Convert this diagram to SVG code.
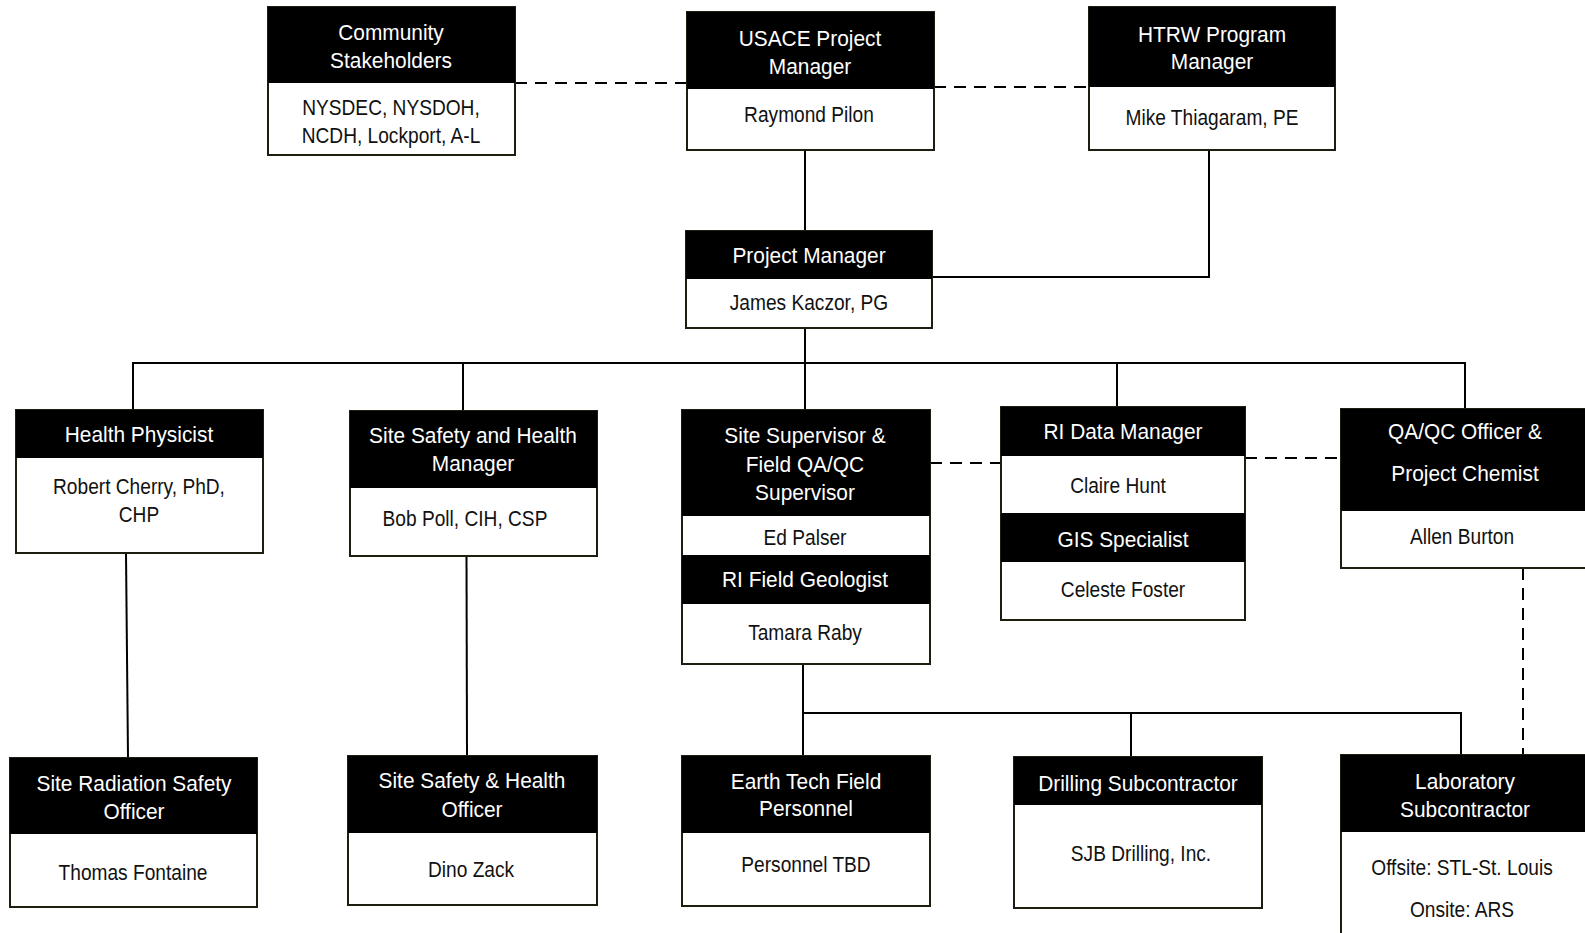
<svg xmlns="http://www.w3.org/2000/svg" width="1585" height="933" viewBox="0 0 1585 933">
<style>
.box{fill:#fff;stroke:#1c1f10;stroke-width:2}
.hd{fill:#000}
text{font-family:"Liberation Sans Narrow","Arial Narrow","Liberation Sans",Arial,sans-serif;font-size:22px;text-anchor:middle;transform-box:fill-box;transform-origin:center}
.w{fill:#fff;transform:scaleX(.95)}
.b{fill:#111;transform:scaleX(.87)}
.ln{fill:none;stroke:#000;stroke-width:2}
.ds{fill:none;stroke:#000;stroke-width:2;stroke-dasharray:12 8}
</style>
<rect width="1585" height="933" fill="#fff"/>
<g id="connectors">
<path class="ds" d="M515 83H687"/>
<path class="ds" d="M934 87H1089"/>
<path class="ln" d="M805 150V231"/>
<path class="ln" d="M1209 150V277H932"/>
<path class="ln" d="M805 328V363"/>
<path class="ln" d="M133 410V363H1465V409"/>
<path class="ln" d="M463 363V411"/>
<path class="ln" d="M805 363V410"/>
<path class="ln" d="M1117 363V407"/>
<path class="ds" d="M930 463H1001"/>
<path class="ds" d="M1245 458H1341"/>
<path class="ds" d="M1523 568V755"/>
<path class="ln" d="M126 553L128 758"/>
<path class="ln" d="M466.5 556L467 756"/>
<path class="ln" d="M803 664V756"/>
<path class="ln" d="M803 713H1461V755"/>
<path class="ln" d="M1131 713V757"/>
</g>
<g id="community">
<rect class="box" x="268" y="7" width="247" height="148"/>
<rect class="hd" x="268" y="7" width="247" height="76"/>
<text class="w" x="391" y="40">Community</text>
<text class="w" x="391" y="68">Stakeholders</text>
<text class="b" x="391" y="115">NYSDEC, NYSDOH,</text>
<text class="b" x="391" y="143">NCDH, Lockport, A-L</text>
</g>
<g id="usace">
<rect class="box" x="687" y="12" width="247" height="138"/>
<rect class="hd" x="687" y="12" width="247" height="77"/>
<text class="w" x="810" y="46">USACE Project</text>
<text class="w" x="810" y="74">Manager</text>
<text class="b" x="809" y="122">Raymond Pilon</text>
</g>
<g id="htrw">
<rect class="box" x="1089" y="7" width="246" height="143"/>
<rect class="hd" x="1089" y="7" width="246" height="80"/>
<text class="w" x="1212" y="42">HTRW Program</text>
<text class="w" x="1212" y="69">Manager</text>
<text class="b" x="1212" y="125">Mike Thiagaram, PE</text>
</g>
<g id="pm">
<rect class="box" x="686" y="231" width="246" height="97"/>
<rect class="hd" x="686" y="231" width="246" height="48"/>
<text class="w" x="809" y="263">Project Manager</text>
<text class="b" x="809" y="310">James Kaczor, PG</text>
</g>
<g id="health-physicist">
<rect class="box" x="16" y="410" width="247" height="143"/>
<rect class="hd" x="16" y="410" width="247" height="48"/>
<text class="w" x="139" y="442">Health Physicist</text>
<text class="b" x="139" y="494">Robert Cherry, PhD,</text>
<text class="b" x="139" y="522">CHP</text>
</g>
<g id="sshm">
<rect class="box" x="350" y="411" width="247" height="145"/>
<rect class="hd" x="350" y="411" width="247" height="77"/>
<text class="w" x="473" y="443">Site Safety and Health</text>
<text class="w" x="473" y="471">Manager</text>
<text class="b" x="465" y="526">Bob Poll, CIH, CSP</text>
</g>
<g id="site-supervisor">
<rect class="box" x="682" y="410" width="248" height="254"/>
<rect class="hd" x="682" y="410" width="248" height="106"/>
<rect class="hd" x="682" y="555" width="248" height="49"/>
<text class="w" x="805" y="443">Site Supervisor &amp;</text>
<text class="w" x="805" y="472">Field QA/QC</text>
<text class="w" x="805" y="500">Supervisor</text>
<text class="b" x="805" y="545">Ed Palser</text>
<text class="w" x="805" y="587">RI Field Geologist</text>
<text class="b" x="805" y="640">Tamara Raby</text>
</g>
<g id="ri-data">
<rect class="box" x="1001" y="407" width="244" height="213"/>
<rect class="hd" x="1001" y="407" width="244" height="49"/>
<rect class="hd" x="1001" y="513" width="244" height="49"/>
<text class="w" x="1123" y="439">RI Data Manager</text>
<text class="b" x="1118" y="493">Claire Hunt</text>
<text class="w" x="1123" y="547">GIS Specialist</text>
<text class="b" x="1123" y="597">Celeste Foster</text>
</g>
<g id="qaqc">
<rect class="box" x="1341" y="409" width="247" height="159"/>
<rect class="hd" x="1341" y="409" width="247" height="102"/>
<text class="w" x="1465" y="439">QA/QC Officer &amp;</text>
<text class="w" x="1465" y="481">Project Chemist</text>
<text class="b" x="1462" y="544">Allen Burton</text>
</g>
<g id="srso">
<rect class="box" x="10" y="758" width="247" height="149"/>
<rect class="hd" x="10" y="758" width="247" height="76"/>
<text class="w" x="134" y="791">Site Radiation Safety</text>
<text class="w" x="134" y="819">Officer</text>
<text class="b" x="133" y="880">Thomas Fontaine</text>
</g>
<g id="ssho">
<rect class="box" x="348" y="756" width="249" height="149"/>
<rect class="hd" x="348" y="756" width="249" height="77"/>
<text class="w" x="472" y="788">Site Safety &amp; Health</text>
<text class="w" x="472" y="817">Officer</text>
<text class="b" x="471" y="877">Dino Zack</text>
</g>
<g id="earth-tech">
<rect class="box" x="682" y="756" width="248" height="150"/>
<rect class="hd" x="682" y="756" width="248" height="77"/>
<text class="w" x="806" y="789">Earth Tech Field</text>
<text class="w" x="806" y="816">Personnel</text>
<text class="b" x="806" y="872">Personnel TBD</text>
</g>
<g id="drilling">
<rect class="box" x="1014" y="757" width="248" height="151"/>
<rect class="hd" x="1014" y="757" width="248" height="48"/>
<text class="w" x="1138" y="791">Drilling Subcontractor</text>
<text class="b" x="1141" y="861">SJB Drilling, Inc.</text>
</g>
<g id="lab">
<rect class="box" x="1341" y="755" width="247" height="200"/>
<rect class="hd" x="1341" y="755" width="247" height="77"/>
<text class="w" x="1465" y="789">Laboratory</text>
<text class="w" x="1465" y="817">Subcontractor</text>
<text class="b" x="1462" y="875">Offsite: STL-St. Louis</text>
<text class="b" x="1462" y="917">Onsite: ARS</text>
</g>
</svg>
